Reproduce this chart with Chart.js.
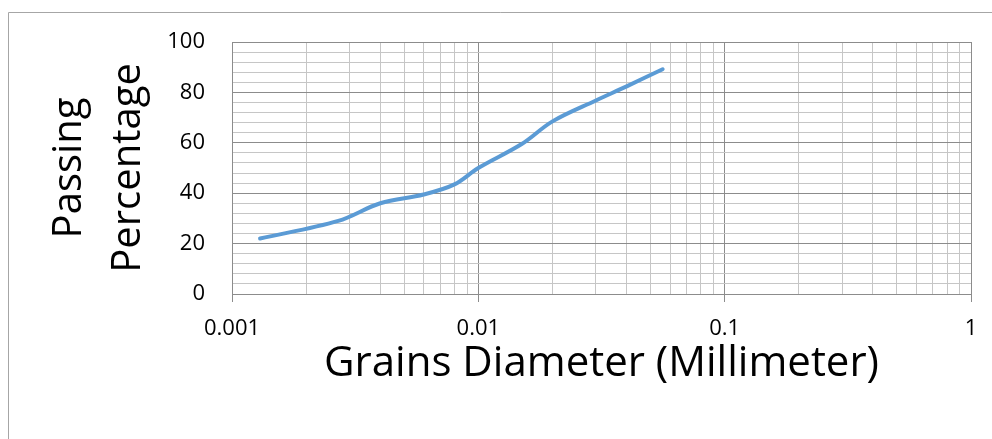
<!DOCTYPE html>
<html>
<head>
<meta charset="utf-8">
<title>Grain size distribution</title>
<script src="https://cdn.jsdelivr.net/npm/chart.js@4.4.1/dist/chart.umd.min.js"></script>
<style>
    html, body { margin: 0; padding: 0; background: #fff; }
    canvas { display: block; }
</style>
</head>
<body>
<canvas id="gradationChart" width="992" height="439"></canvas>
<script>
// 粒径 (mm) 与通过百分比
const diameters = [0.0013, 0.0027, 0.004, 0.006, 0.008, 0.01, 0.015, 0.02, 0.03, 0.04, 0.056];
const passing = [22, 29, 36, 39.5, 43.5, 50, 59.5, 68.5, 76.8, 82.4, 89.2];

// 坐标轴刻度
const decadeTicks = [0.001, 0.01, 0.1, 1];
const decadeLabels = ['0.001', '0.01', '0.1', '1'];
const minorSteps = [1, 2, 3, 4, 5, 6, 7, 8, 9];
const yMajorStep = 20;
const yMinorStep = 4;

const majorGrid = '#8c8c8c';
const minorGrid = '#c6c6c6';

// 对数轴上每个十倍程的 1~9 网格线
function buildLogTicks() {
    const ticks = [];
    decadeTicks.forEach((decade, i) => {
        if (i === decadeTicks.length - 1) {
            ticks.push({ value: decade });
            return;
        }
        minorSteps.forEach(m => ticks.push({ value: decade * m }));
    });
    return ticks;
}

// 外框
const frame = {
    id: 'frame',
    beforeDraw(chart) {
        const ctx = chart.ctx;
        ctx.save();
        ctx.fillStyle = '#fff';
        ctx.fillRect(0, 0, chart.width, chart.height);
        ctx.strokeStyle = '#a6a6a6';
        ctx.lineWidth = 1;
        ctx.beginPath();
        ctx.moveTo(8.5, chart.height + 5);
        ctx.lineTo(8.5, 12.5);
        ctx.lineTo(chart.width + 5, 12.5);
        ctx.stroke();
        ctx.restore();
    }
};

const ctx = document.getElementById('gradationChart').getContext('2d');

new Chart(ctx, {
    type: 'line',
    data: {
        datasets: [{
            label: 'Passing Percentage',
            data: diameters.map((d, i) => ({ x: d, y: passing[i] })),
            borderColor: '#5b9bd5',
            borderWidth: 4,
            borderCapStyle: 'round',
            pointRadius: 0,
            tension: 0.35,
            fill: false
        }]
    },
    options: {
        responsive: false,
        animation: false,
        devicePixelRatio: 1,
        layout: {
            padding: { top: 42, right: 21, left: 0, bottom: 0 }
        },
        plugins: {
            legend: { display: false },
            tooltip: { enabled: false }
        },
        scales: {
            x: {
                type: 'logarithmic',
                min: 0.001,
                max: 1,
                afterBuildTicks: scale => { scale.ticks = buildLogTicks(); },
                afterFit: scale => { scale.height = 145; },
                border: { color: majorGrid, width: 1 },
                grid: {
                    color: c => decadeTicks.includes(c.tick.value) ? majorGrid : minorGrid,
                    tickColor: c => decadeTicks.includes(c.tick.value) ? majorGrid : 'transparent',
                    tickLength: 8,
                    lineWidth: 1
                },
                ticks: {
                    autoSkip: false,
                    maxRotation: 0,
                    padding: 14,
                    color: '#000',
                    font: { family: 'Open Sans', size: 22 },
                    callback: value => {
                        const i = decadeTicks.indexOf(value);
                        return i >= 0 ? decadeLabels[i] : '';
                    }
                },
                title: {
                    display: true,
                    text: 'Grains Diameter (Millimeter)',
                    color: '#000',
                    font: { family: 'Open Sans', size: 42 },
                    padding: { top: 0, bottom: 50 }
                }
            },
            y: {
                min: 0,
                max: 100,
                afterFit: scale => { scale.width = 232; },
                border: { color: majorGrid, width: 1 },
                grid: {
                    color: c => c.tick.value % yMajorStep === 0 ? majorGrid : minorGrid,
                    drawTicks: false,
                    lineWidth: 1
                },
                ticks: {
                    stepSize: yMinorStep,
                    autoSkip: false,
                    padding: 27,
                    color: '#000',
                    font: { family: 'Open Sans', size: 22 },
                    callback: value => value % yMajorStep === 0 ? value : ''
                },
                title: {
                    display: true,
                    text: ['Passing', 'Percentage'],
                    color: '#000',
                    font: { family: 'Open Sans', size: 40, lineHeight: '59px' },
                    padding: { top: 40, bottom: 0 }
                }
            }
        }
    },
    plugins: [frame]
});
</script>
</body>
</html>
